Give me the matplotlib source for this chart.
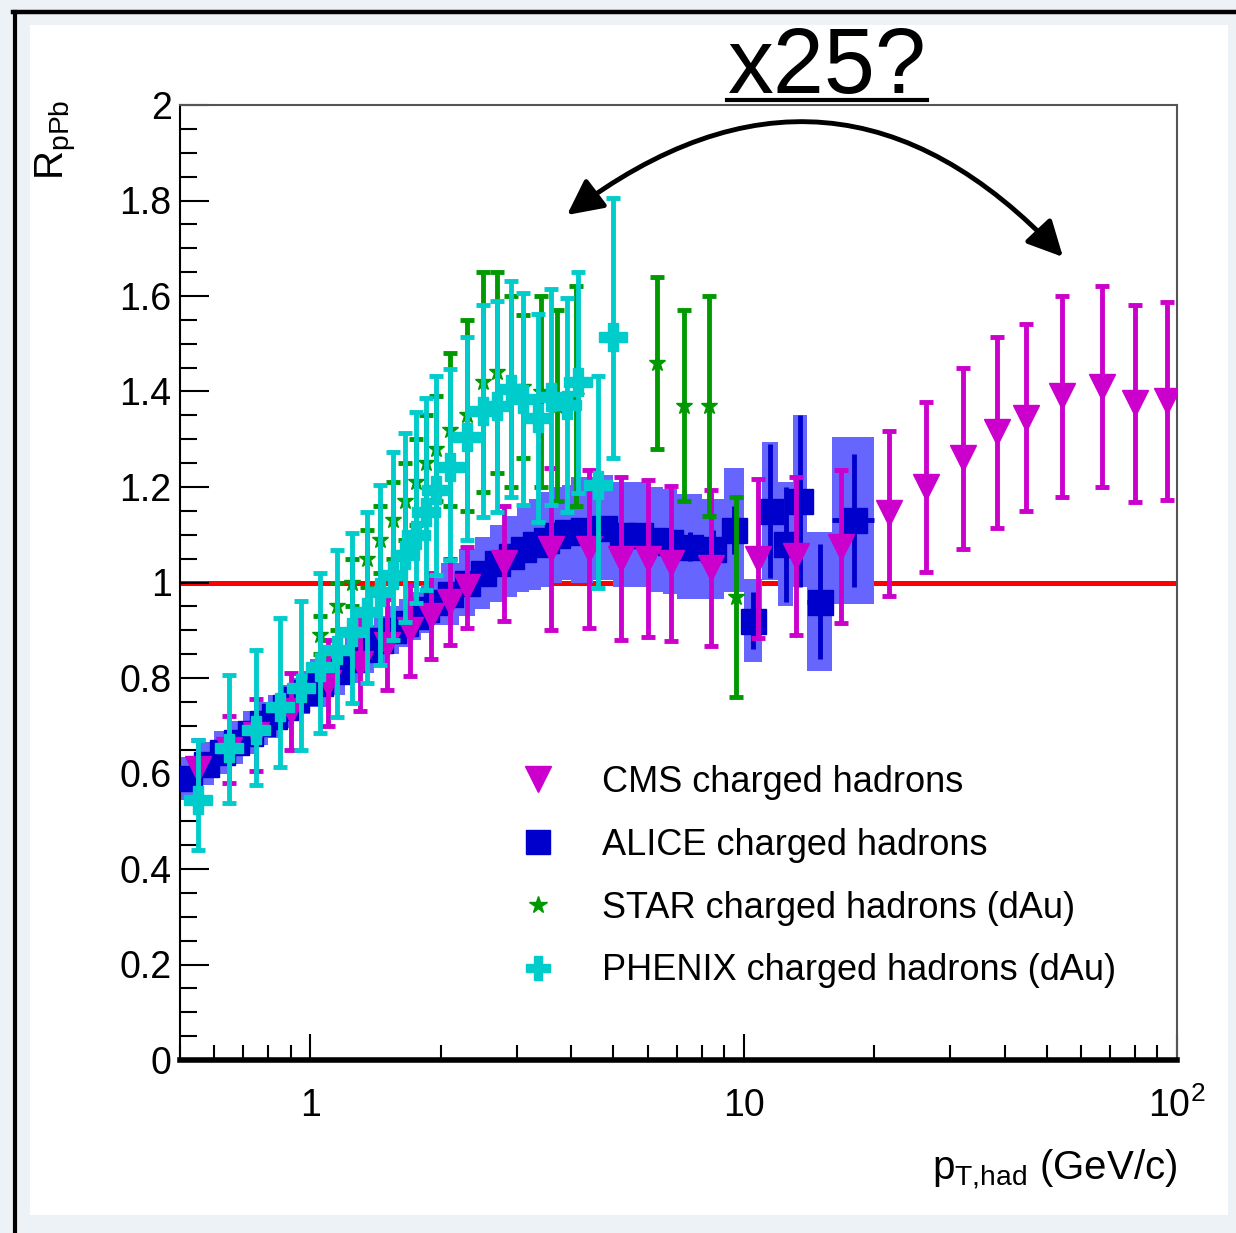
import matplotlib
matplotlib.use('Agg')
import matplotlib.pyplot as plt
import numpy as np
from matplotlib.lines import Line2D
from matplotlib.patches import Rectangle, FancyArrowPatch
from matplotlib.ticker import FixedLocator, LogLocator, NullFormatter

plt.rcParams['font.family'] = ['Liberation Sans', 'DejaVu Sans']
plt.rcParams['mathtext.fontset'] = 'custom'
plt.rcParams['mathtext.rm'] = 'Liberation Sans'
plt.rcParams['mathtext.it'] = 'Liberation Sans:italic'

# CMS charged hadrons (pPb)
cms_pt = [0.55, 0.65, 0.75, 0.9, 1.1, 1.3, 1.5, 1.7, 1.9, 2.1, 2.3, 2.8, 3.6, 4.4, 5.2, 6.0,
          6.8, 8.4, 10.8, 13.2, 16.8, 21.6, 26.4, 32.0, 38.4, 44.8, 54.4, 67.2, 80.0, 95.0]
cms_val = [0.61, 0.65, 0.68, 0.73, 0.79, 0.83, 0.87, 0.90, 0.93, 0.96, 0.99, 1.04, 1.07, 1.07, 1.05, 1.05,
           1.04, 1.03, 1.05, 1.055, 1.075, 1.145, 1.20, 1.26, 1.315, 1.345, 1.39, 1.41, 1.375, 1.38]
cms_err = [0.06, 0.07, 0.075, 0.08, 0.09, 0.10, 0.095, 0.095, 0.09, 0.09, 0.085, 0.12, 0.17, 0.165, 0.17, 0.165,
           0.163, 0.163, 0.167, 0.165, 0.16, 0.173, 0.177, 0.19, 0.2, 0.196, 0.21, 0.21, 0.206, 0.208]

# ALICE charged hadrons (pPb): bins, value, stat, syst
alice_lo = [0.5, 0.55, 0.6, 0.65, 0.7, 0.75, 0.8, 0.85, 0.9, 0.95,
            1.0, 1.1, 1.2, 1.3, 1.4, 1.5, 1.6, 1.7, 1.8, 1.9,
            2.0, 2.2, 2.4, 2.6, 2.8, 3.0, 3.2, 3.4, 3.6, 3.8,
            4.0, 4.5, 5.0, 5.5, 6.0, 6.5, 7.0, 8.0, 9.0, 10.0, 11.0, 12.0, 13.0, 14.0, 16.0]
alice_hi = [0.55, 0.6, 0.65, 0.7, 0.75, 0.8, 0.85, 0.9, 0.95, 1.0,
            1.1, 1.2, 1.3, 1.4, 1.5, 1.6, 1.7, 1.8, 1.9, 2.0,
            2.2, 2.4, 2.6, 2.8, 3.0, 3.2, 3.4, 3.6, 3.8, 4.0,
            4.5, 5.0, 5.5, 6.0, 6.5, 7.0, 8.0, 9.0, 10.0, 11.0, 12.0, 13.0, 14.0, 16.0, 20.0]
alice_val = [0.59, 0.62, 0.645, 0.665, 0.685, 0.705, 0.72, 0.74, 0.755, 0.77,
             0.79, 0.815, 0.84, 0.86, 0.88, 0.90, 0.915, 0.93, 0.945, 0.96,
             0.975, 1.0, 1.02, 1.04, 1.055, 1.07, 1.08, 1.09, 1.10, 1.105,
             1.11, 1.115, 1.10, 1.10, 1.09, 1.085, 1.075, 1.07, 1.11, 0.92, 1.15, 1.08, 1.17, 0.96, 1.13]
alice_stat = [0.01] * 30 + [0.02, 0.02, 0.02, 0.02, 0.025, 0.025, 0.03, 0.04, 0.05, 0.06, 0.14, 0.12, 0.18, 0.12, 0.14]
alice_sys = [0.045] * 10 + [0.05] * 10 + [0.065, 0.07, 0.075, 0.08, 0.085, 0.09, 0.095, 0.1, 0.1, 0.1] + \
            [0.11, 0.11, 0.11, 0.11, 0.11, 0.11, 0.11, 0.105, 0.13, 0.087, 0.145, 0.13, 0.18, 0.145, 0.175]

# STAR charged hadrons (dAu)
star_pt = [1.05, 1.15, 1.25, 1.35, 1.45, 1.55, 1.65, 1.75, 1.85, 1.95, 2.1, 2.3, 2.5, 2.7, 2.9,
           3.1, 3.4, 3.7, 4.1, 6.3, 7.3, 8.3, 9.6]
star_val = [0.89, 0.95, 1.00, 1.05, 1.09, 1.13, 1.17, 1.21, 1.25, 1.28, 1.32, 1.35, 1.42, 1.44, 1.40,
            1.41, 1.40, 1.37, 1.39, 1.46, 1.37, 1.37, 0.97]
star_err = [0.04, 0.05, 0.05, 0.06, 0.07, 0.08, 0.08, 0.09, 0.10, 0.11, 0.16, 0.20, 0.23, 0.21, 0.20,
            0.15, 0.20, 0.20, 0.23, 0.18, 0.20, 0.23, 0.21]

# PHENIX charged hadrons (dAu)
phx_pt = [0.55, 0.65, 0.75, 0.85, 0.95, 1.05, 1.15, 1.25, 1.35, 1.45, 1.55, 1.65, 1.75, 1.85,
          1.95, 2.1, 2.3, 2.5, 2.7, 2.9, 3.1, 3.35, 3.6, 3.9, 4.15, 4.6, 5.0]
phx_val = [0.545, 0.653, 0.691, 0.739, 0.779, 0.823, 0.859, 0.896, 0.938, 0.98, 1.016, 1.058, 1.10, 1.148,
           1.194, 1.242, 1.305, 1.359, 1.37, 1.405, 1.384, 1.344, 1.388, 1.372, 1.42, 1.204, 1.514]
phx_top = [0.67, 0.806, 0.859, 0.926, 0.961, 1.02, 1.068, 1.104, 1.148, 1.204, 1.273, 1.313, 1.357, 1.386,
           1.432, 1.447, 1.514, 1.581, 1.59, 1.631, 1.606, 1.562, 1.615, 1.596, 1.65, 1.432, 1.805]
phx_bot = [0.44, 0.538, 0.576, 0.614, 0.649, 0.685, 0.718, 0.748, 0.79, 0.827, 0.88, 0.917, 0.957, 0.984,
           1.016, 1.047, 1.089, 1.137, 1.148, 1.179, 1.162, 1.127, 1.162, 1.148, 1.187, 0.988, 1.26]

labels = ['CMS charged hadrons', 'ALICE charged hadrons',
          'STAR charged hadrons (dAu)', 'PHENIX charged hadrons (dAu)']

c_cms = '#cc00cc'
c_alice = '#0000cc'
c_alice_sys = '#6666ff'
c_star = '#009900'
c_phx = '#00cccc'

W, H = 1236, 1233
fig = plt.figure(figsize=(W / 100, H / 100), dpi=100)
fig.patch.set_facecolor('#edf2f7')

# white panel and black border lines
fig.add_artist(Rectangle((30 / W, 1 - 1215 / H), (1228 - 30) / W, (1215 - 25) / H,
                         transform=fig.transFigure, facecolor='white', edgecolor='none', zorder=-5))
fig.add_artist(Line2D([13 / W, 1], [1 - 12 / H, 1 - 12 / H], transform=fig.transFigure,
                      color='black', lw=3.2))
fig.add_artist(Line2D([15 / W, 15 / W], [0, 1 - 12 / H], transform=fig.transFigure,
                      color='black', lw=3.0))

ax = fig.add_axes([180 / W, 1 - 1060 / H, (1177 - 180) / W, (1060 - 105) / H])
ax.set_xscale('log')
ax.set_xlim(0.5, 100)
ax.set_ylim(0, 2)

ax.axhline(1.0, color='red', lw=3.6, zorder=1)

# ALICE
a_lo = np.array(alice_lo)
a_hi = np.array(alice_hi)
a_val = np.array(alice_val)
a_sys = np.array(alice_sys)
a_pt = 0.5 * (a_lo + a_hi)
ax.bar(a_lo, 2 * a_sys, width=a_hi - a_lo, bottom=a_val - a_sys, align='edge',
       color=c_alice_sys, linewidth=0, zorder=2)
ax.errorbar(a_pt, a_val, yerr=alice_stat, xerr=[a_pt - a_lo, a_hi - a_pt], fmt='s', ms=18,
            color=c_alice, mec=c_alice, elinewidth=3.5, capsize=0, zorder=3)

# CMS
ax.errorbar(cms_pt, cms_val, yerr=cms_err, fmt='v', ms=19, color=c_cms, mec=c_cms,
            elinewidth=3.5, capsize=5, capthick=3.5, zorder=4)

# STAR
ax.errorbar(star_pt, star_val, yerr=star_err, fmt='*', ms=12, color=c_star, mec=c_star,
            elinewidth=3.5, capsize=5, capthick=3.5, zorder=5)

# PHENIX
p_val = np.array(phx_val)
ax.errorbar(phx_pt, phx_val, yerr=[p_val - np.array(phx_bot), np.array(phx_top) - p_val],
            fmt='P', ms=20, color=c_phx, mec=c_phx, elinewidth=3.5, capsize=5, capthick=3.5, zorder=6)

# axes styling
ax.yaxis.set_major_locator(FixedLocator(np.arange(0, 2.01, 0.2)))
ax.yaxis.set_minor_locator(FixedLocator(np.arange(0, 2.01, 0.05)))
ax.set_yticklabels(['0', '0.2', '0.4', '0.6', '0.8', '1', '1.2', '1.4', '1.6', '1.8', '2'])
ax.set_xticks([1, 10, 100])
ax.set_xticklabels(['1', '10', r'$\mathregular{10^{2}}$'])
ax.xaxis.set_minor_locator(LogLocator(base=10, subs=np.arange(2, 10)))
ax.xaxis.set_minor_formatter(NullFormatter())
ax.tick_params(axis='both', which='both', direction='in', top=False, right=False,
               colors='black', width=1.5, labelsize=27)
ax.tick_params(axis='y', which='major', length=21, pad=6)
ax.tick_params(axis='y', which='minor', length=12)
ax.tick_params(axis='x', which='major', length=19, pad=20)
ax.tick_params(axis='x', which='minor', length=11)
for s in ['top', 'right']:
    ax.spines[s].set_color('#555555')
    ax.spines[s].set_linewidth(1.5)
ax.spines['left'].set_linewidth(1.5)
ax.spines['bottom'].set_linewidth(4)

# axis titles
fig.text(55 / W, 1 - 100 / H, r'$\mathrm{R}_{\mathrm{pPb}}$', rotation=90, ha='center', va='top',
         fontsize=29)
fig.text(1177 / W, 1 - 1180 / H, r'$\mathrm{p}_{\mathrm{T{,}had}}$ (GeV/c)', ha='right',
         va='baseline', fontsize=29)

# legend
handles = [Line2D([], [], ls='none', marker='v', ms=19, color=c_cms),
           Line2D([], [], ls='none', marker='s', ms=17, color=c_alice),
           Line2D([], [], ls='none', marker='*', ms=13, color=c_star),
           Line2D([], [], ls='none', marker='P', ms=17, color=c_phx)]
ax.legend(handles, labels, loc='upper left', bbox_to_anchor=(511 / W, 1 - 765 / H),
          bbox_transform=fig.transFigure, frameon=False, fontsize=26, borderaxespad=0,
          borderpad=0, handlelength=1.5, handletextpad=1.02, labelspacing=0.77)

# annotation
fig.text(827 / W, 1 - 93 / H, 'x25?', ha='center', va='baseline', fontsize=66)
fig.add_artist(Line2D([727 / W, 927 / W], [1 - 100 / H, 1 - 100 / H], transform=fig.transFigure,
                      color='black', lw=3))
arrow = FancyArrowPatch((567 / W, 1 - 215 / H), (1063 / W, 1 - 257 / H), transform=fig.transFigure,
                        connectionstyle='arc3,rad=-0.45',
                        arrowstyle='<|-|>,head_length=0.9,head_width=0.45',
                        mutation_scale=24, lw=3.5, color='black', shrinkA=0, shrinkB=0)
fig.add_artist(arrow)

fig.savefig('out.png', dpi=100)
